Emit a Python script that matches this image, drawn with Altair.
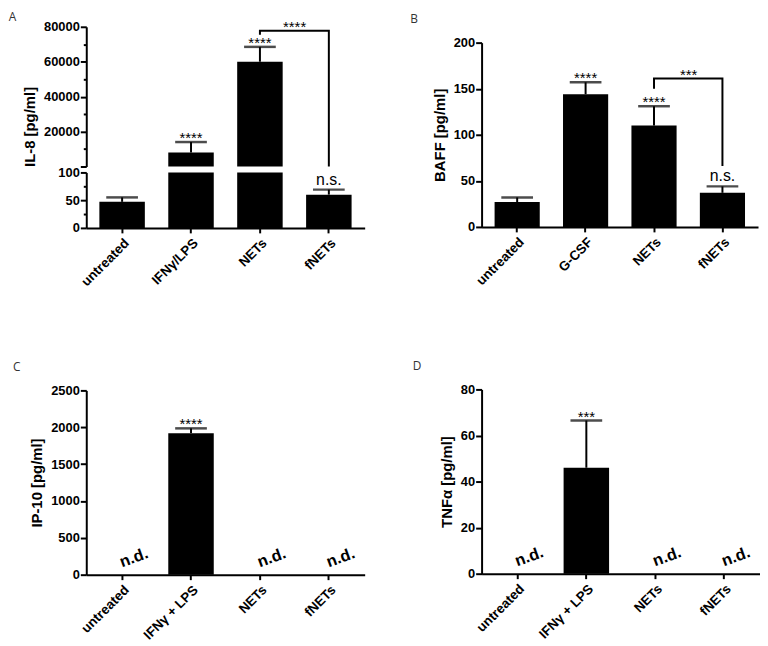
import altair as alt
import pandas as pd

FONT = "Liberation Sans"

# ---------------- data ----------------
cats_A = ["untreated", "IFNγ/LPS", "NETs", "fNETs"]
mean_A = [47, 8000, 60000, 60]
err_A = [8, 6000, 8500, 9]
sig_A = ["", "****", "****", "n.s."]

cats_B = ["untreated", "G-CSF", "NETs", "fNETs"]
mean_B = [27, 144, 110, 37]
err_B = [5, 13, 21, 7]
sig_B = ["", "****", "****", "n.s."]

cats_C = ["untreated", "IFNγ + LPS", "NETs", "fNETs"]
mean_C = [0, 1920, 0, 0]
err_C = [0, 65, 0, 0]
sig_C = ["n.d.", "****", "n.d.", "n.d."]

cats_D = ["untreated", "IFNγ + LPS", "NETs", "fNETs"]
mean_D = [0, 46, 0, 0]
err_D = [0, 20.5, 0, 0]
sig_D = ["n.d.", "***", "n.d.", "n.d."]

bracket_A_cats = ["NETs", "NETs", "fNETs", "fNETs"]
bracket_A_vals = [75500, 77700, 77700, 0]
bracket_A_label = "****"

bracket_B_cats = ["NETs", "NETs", "fNETs", "fNETs"]
bracket_B_vals = [150, 161, 161, 66]
bracket_B_label = "***"


def frame(cats, means, errs, sigs):
    df = pd.DataFrame({"cat": cats, "mean": means, "err": errs, "sig": sigs})
    df["top"] = df["mean"] + df["err"]
    return df


def xenc(cats, axis):
    return alt.X("cat:N", title=None, axis=axis,
                 scale=alt.Scale(domain=cats, paddingInner=0.34, paddingOuter=0.19))


XAXIS = alt.Axis(labelAngle=315, labelFont=FONT, labelFontWeight="bold",
                 labelFontSize=13.5, labelColor="black", domainColor="black",
                 domainWidth=2, tickColor="black", tickWidth=2, tickSize=5,
                 labelPadding=3, title=None)


def yaxis(values, major, title, label_expr=None, **kw):
    if label_expr is None:
        label_expr = f"datum.value % {major} == 0 ? datum.label : ''"
    return alt.Axis(values=values, format="d", labelExpr=label_expr,
                    tickSize={"condition": {"test": f"datum.value % {major} == 0", "value": 6}, "value": 3},
                    labelFont=FONT, labelFontWeight="bold", labelFontSize=13,
                    labelColor="black", labelPadding=1,
                    domainColor="black", domainWidth=2, tickColor="black", tickWidth=2,
                    grid=False, title=title, titleFont=FONT, titleFontWeight="bold",
                    titleFontSize=15, titleColor="black", titlePadding=6, **kw)


def panel_layers(df_bars, df_err, df_sig, cats, scale, yax, xax, clip=False,
                 nd=False, ns=True, bracket=None):
    x = xenc(cats, xax)
    layers = [alt.Chart(df_bars).mark_bar(color="black", clip=clip).encode(
        x=x, y=alt.Y("mean:Q", scale=scale, axis=yax))]
    ed = df_err[df_err["err"] > 0]
    if len(ed):
        layers.append(alt.Chart(ed).mark_rule(color="black", strokeWidth=2).encode(
            x=x, y=alt.Y("mean:Q", scale=scale, axis=yax), y2="top:Q"))
        layers.append(alt.Chart(ed).mark_tick(color="black", thickness=2.5, size=32).encode(
            x=x, y=alt.Y("top:Q", scale=scale, axis=yax)))
    st = df_sig[df_sig["sig"].str.startswith("*")]
    if len(st):
        layers.append(alt.Chart(st).mark_text(font=FONT, fontSize=15, color="black",
                                              baseline="alphabetic", dy=1).encode(
            x=x, y=alt.Y("top:Q", scale=scale, axis=yax), text="sig:N"))
    if ns:
        d = df_sig[df_sig["sig"] == "n.s."]
        if len(d):
            layers.append(alt.Chart(d).mark_text(font=FONT, fontSize=16, color="black",
                                                 baseline="alphabetic", dy=-5).encode(
                x=x, y=alt.Y("top:Q", scale=scale, axis=yax), text="sig:N"))
    if nd:
        d = df_sig[df_sig["sig"] == "n.d."]
        layers.append(alt.Chart(d).mark_text(font=FONT, fontSize=16.5, fontWeight="bold",
                                             color="black", angle=340, baseline="middle",
                                             dx=17, dy=-12).encode(
            x=x, y=alt.Y("mean:Q", scale=scale, axis=yax), text="sig:N"))
    if bracket is not None:
        bcats, bvals, label = bracket
        bdf = pd.DataFrame({"cat": bcats, "mean": bvals, "i": list(range(len(bcats)))})
        layers.append(alt.Chart(bdf).mark_line(color="black", strokeWidth=2).encode(
            x=x, y=alt.Y("mean:Q", scale=scale, axis=yax), order="i:Q"))
        ldf = pd.DataFrame({"cat": [bcats[0]], "mean": [max(bvals)], "sig": [label]})
        layers.append(alt.Chart(ldf).mark_text(font=FONT, fontSize=15, color="black",
                                               baseline="alphabetic", dx=35, dy=1).encode(
            x=x, y=alt.Y("mean:Q", scale=scale, axis=yax), text="sig:N"))
    return layers


def letter(t, dx, offset):
    return alt.Title(t, anchor="start", frame="bounds", font="Open Sans",
                     fontSize=12, fontWeight="normal", color="#333333",
                     dx=dx, offset=offset)


W = 281

# ---------------- panel A (broken axis) ----------------
dfA = frame(cats_A, mean_A, err_A, sig_A)
upA = dfA[dfA["mean"] > 100]
lowA = dfA[dfA["mean"] <= 100]
sA_up = alt.Scale(domain=[0, 80000], nice=False, zero=True)
sA_low = alt.Scale(domain=[0, 100], nice=False, zero=True)

axA_up = yaxis(list(range(0, 80001, 10000)), 20000, "IL-8 [pg/ml]",
               label_expr="datum.value % 20000 == 0 && datum.value > 0 ? datum.label : ''",
               titleAnchor="start")
axA_low = yaxis([0, 25, 50, 75, 100], 50, None)

upper = alt.layer(
    *panel_layers(upA, upA, upA, cats_A, sA_up, axA_up, None,
                  bracket=(bracket_A_cats, bracket_A_vals, bracket_A_label)),
).properties(width=W, height=141, title=letter("A", -14, -4))

lower = alt.layer(
    *panel_layers(dfA, lowA, lowA, cats_A, sA_low, axA_low, XAXIS, clip=True),
).properties(width=W, height=56)

panelA = alt.vconcat(upper, lower, spacing=6, bounds="flush")

# ---------------- panel B ----------------
dfB = frame(cats_B, mean_B, err_B, sig_B)
sB = alt.Scale(domain=[0, 200], nice=False, zero=True)
panelB = alt.layer(
    *panel_layers(dfB, dfB, dfB, cats_B, sB, yaxis([0, 50, 100, 150, 200], 50, "BAFF [pg/ml]"),
                  XAXIS, bracket=(bracket_B_cats, bracket_B_vals, bracket_B_label)),
).properties(width=279, height=186)

# small empty view that carries the "B" label and pushes panel B down
spacer_df = pd.DataFrame({"a": [0]})
spacerB = alt.Chart(spacer_df).mark_point(opacity=0, size=1).encode(
    x=alt.X("a:Q", axis=None), y=alt.Y("a:Q", axis=None)
).properties(width=1, height=1, title=letter("B", -72, 1))

# ---------------- panel C ----------------
dfC = frame(cats_C, mean_C, err_C, sig_C)
sC = alt.Scale(domain=[0, 2500], nice=False, zero=True)
panelC = alt.layer(
    *panel_layers(dfC, dfC, dfC, cats_C, sC,
                  yaxis([0, 500, 1000, 1500, 2000, 2500], 500, "IP-10 [pg/ml]"),
                  XAXIS, nd=True),
).properties(width=W, height=186, title=letter("C", -17, 11))

# ---------------- panel D ----------------
dfD = frame(cats_D, mean_D, err_D, sig_D)
sD = alt.Scale(domain=[0, 80], nice=False, zero=True)
panelD = alt.layer(
    *panel_layers(dfD, dfD, dfD, cats_D, sD, yaxis([0, 20, 40, 60, 80], 20, "TNFα [pg/ml]"),
                  XAXIS, nd=True),
).properties(width=W, height=186, title=letter("D", -27, 11))

col1 = alt.vconcat(panelA, panelC, spacing=72)
col2 = alt.vconcat(alt.vconcat(spacerB, panelB, spacing=9), panelD, spacing=72)

chart = alt.hconcat(col1, col2, spacing=46).properties(
    padding={"left": 0, "top": 0, "right": 0, "bottom": 0},
    background="white",
).configure_view(stroke=None)

chart.save("out.html", embed_options={"renderer": "svg", "actions": False})
